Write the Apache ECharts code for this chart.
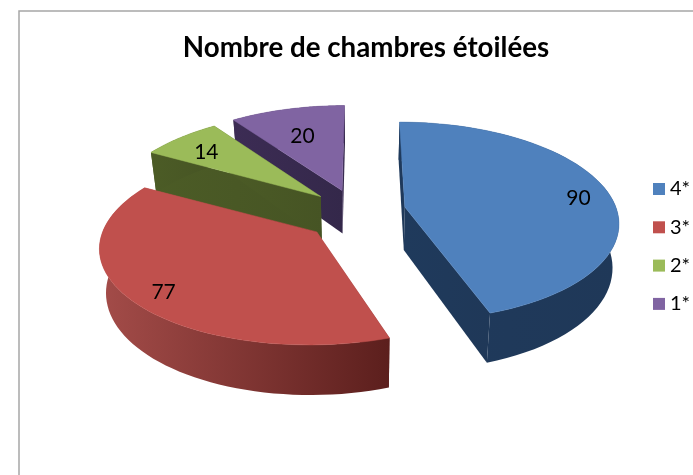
<!DOCTYPE html>
<html>
<head>
<meta charset="utf-8">
<title>Nombre de chambres étoilées</title>
<script src="https://cdn.jsdelivr.net/npm/echarts@6/dist/echarts.min.js"></script>
<style>
  html, body { margin: 0; padding: 0; background: #fff; }
  #chart { width: 693px; height: 475px; }
</style>
</head>
<body>
<div id="chart"></div>
<script>
const categories = ["4*", "3*", "2*", "1*"];
const values = [90, 77, 14, 20];
const topColors = ["#4f81bd", "#c0504d", "#9bbb59", "#8064a2"];
const sideColors = [
  ["#1f3a5c", "#1f3858"],
  ["#a44c49", "#5c1f1d"],
  ["#4c5c26", "#465424"],
  ["#3c2c54", "#34284a"]
];
const labelRadius = [0.85, 0.88, 0.74, 0.66];
const labelNudge = [[1, 4], [8, 1], [-8, 0], [-2, 2]];

const FONT = "Lato, Carlito, 'Open Sans', sans-serif";
// centre of the unexploded pie and how far the slices are pulled out
const CX = 357, CY = 210.5, EXPLODE_X = 48.5, EXPLODE_BACK = 21, EXPLODE_FRONT = 33.4;
const RX = 211, RY = 97, PERSP = 0.1417, DEPTH = 43, VANISH_X = 362, BOTTOM_SCALE = 0.975;

const total = values.reduce((a, b) => a + b, 0);

function dir(angle) {
  return [Math.sin(angle), -Math.cos(angle)];
}

function topPoint(apex, angle, r, rx) {
  const d = dir(angle);
  const s = 1 / (1 - PERSP * d[1] * r);
  return {
    x: VANISH_X + (apex[0] - VANISH_X + rx * d[0] * r) * s,
    y: apex[1] + RY * d[1] * r * s,
    s: s
  };
}

function bottomPoint(p) {
  return [VANISH_X + (p.x - VANISH_X) * BOTTOM_SCALE, p.y + DEPTH * p.s];
}

function renderSlice(params, api) {
  const i = params.seriesIndex;
  const value = api.value(0);
  const before = values.slice(0, i).reduce((a, b) => a + b, 0);
  const start = (before / total) * Math.PI * 2;
  const end = ((before + value) / total) * Math.PI * 2;
  const mid = (start + end) / 2;
  const md = dir(mid);
  const front = md[1] > 0;
  const apex = [
    CX + EXPLODE_X * md[0] * (front ? 1.08 : 1),
    CY + md[1] * (front ? EXPLODE_FRONT : EXPLODE_BACK)
  ];
  // slices pulled towards the viewer come out slightly wider
  const rx = RX * (front ? 1.015 : 1);

  const rim = [];
  const steps = 60;
  for (let k = 0; k <= steps; k++) {
    rim.push(topPoint(apex, start + ((end - start) * k) / steps, 1, rx));
  }
  const rimTop = rim.map(p => [p.x, p.y]);
  const rimBottom = rim.map(bottomPoint);
  const apexBottom = bottomPoint({ x: apex[0], y: apex[1], s: 1 });

  const sideFill = new echarts.graphic.LinearGradient(0, 0, 1, 0, [
    { offset: 0, color: sideColors[i][0] },
    { offset: 1, color: sideColors[i][1] }
  ]);
  const wall = pts => ({
    type: "polygon",
    shape: { points: pts },
    style: { fill: sideFill, stroke: null }
  });

  const labelPos = topPoint(apex, mid, labelRadius[i], rx);
  return {
    type: "group",
    children: [
      wall([apex, rimTop[0], rimBottom[0], apexBottom]),
      wall([apex, rimTop[steps], rimBottom[steps], apexBottom]),
      wall(rimTop.concat(rimBottom.slice().reverse())),
      {
        type: "polygon",
        shape: { points: [apex].concat(rimTop) },
        style: { fill: topColors[i], stroke: topColors[i], lineWidth: 0.5 }
      },
      {
        type: "text",
        style: {
          text: String(value),
          x: labelPos.x + labelNudge[i][0],
          y: labelPos.y + labelNudge[i][1],
          align: "center",
          verticalAlign: "middle",
          fill: "#000",
          font: "21px " + FONT
        }
      }
    ]
  };
}

const chart = echarts.init(document.getElementById("chart"), null, { renderer: "canvas" });
chart.setOption({
  animation: false,
  backgroundColor: "#fff",
  title: {
    text: "Nombre de chambres étoilées",
    left: 361,
    top: 29,
    textAlign: "center",
    textStyle: { color: "#000", fontFamily: FONT, fontWeight: "bold", fontSize: 27.7 }
  },
  legend: {
    orient: "vertical",
    left: 648,
    top: 174,
    icon: "rect",
    itemWidth: 12,
    itemHeight: 12,
    itemGap: 18.3,
    data: categories,
    selectedMode: false,
    textStyle: { color: "#000", fontFamily: FONT, fontSize: 20, lineHeight: 20, padding: [0, 0, 0, 0] }
  },
  graphic: [
    {
      type: "rect",
      silent: true,
      z: -1,
      shape: { x: 19, y: 11, width: 800, height: 600 },
      style: { fill: "#fff", stroke: "#a6a6a6", lineWidth: 1.5 }
    }
  ],
  series: categories.map((name, i) => ({
    type: "custom",
    name: name,
    coordinateSystem: "none",
    z: categories.length - i,
    itemStyle: { color: topColors[i] },
    data: [values[i]],
    renderItem: renderSlice
  }))
});
</script>
</body>
</html>
